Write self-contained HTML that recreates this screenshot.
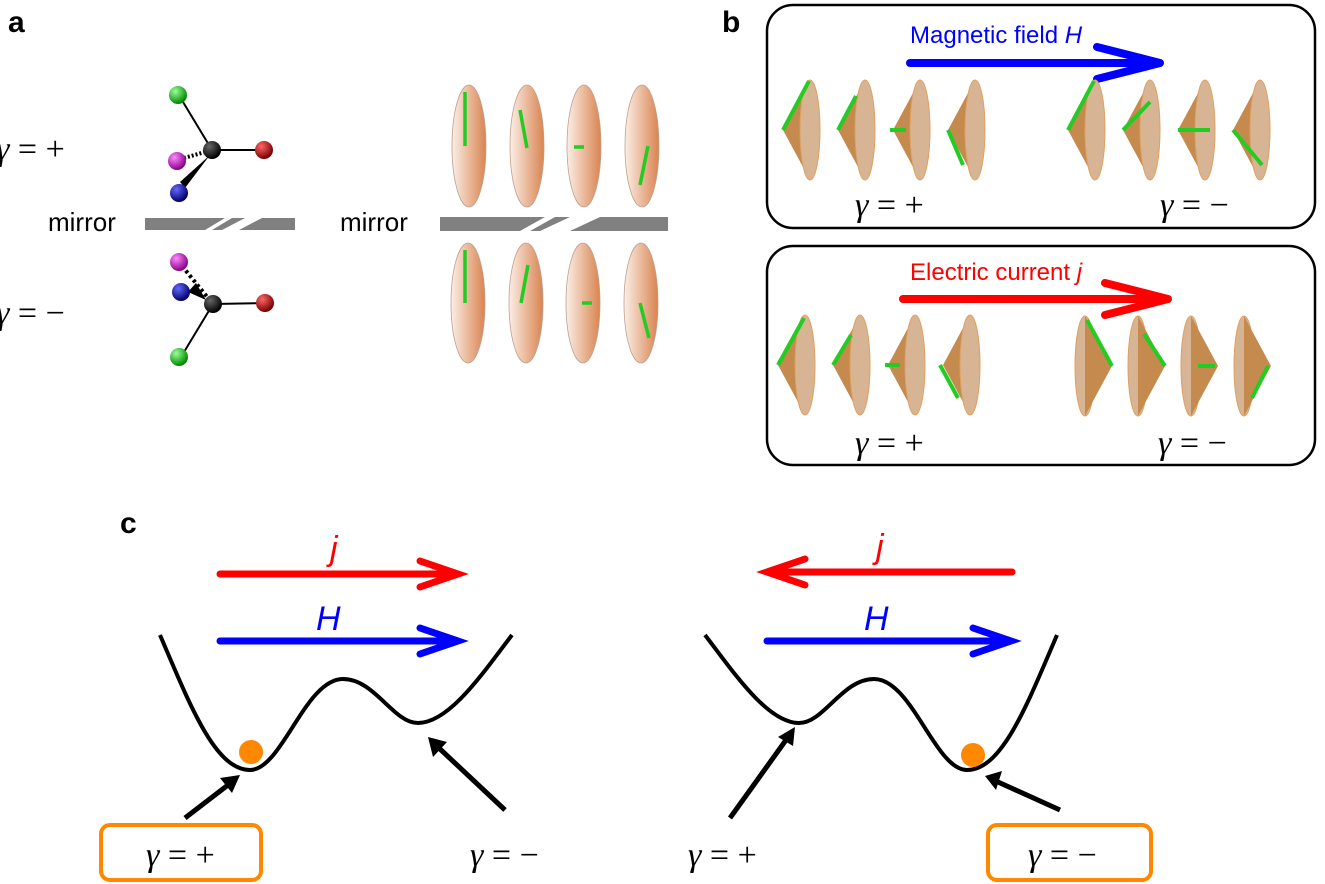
<!DOCTYPE html>
<html><head><meta charset="utf-8"><style>
html,body{margin:0;padding:0;background:#fff;}
svg{display:block;font-family:"Liberation Sans",sans-serif;}
.g{font-family:"Liberation Serif",serif;font-size:34px;}
</style></head><body>
<svg width="1325" height="884" viewBox="0 0 1325 884" xmlns="http://www.w3.org/2000/svg">
<defs>
<radialGradient id="gg" cx="35%" cy="30%" r="70%"><stop offset="0" stop-color="#9f9"/><stop offset="1" stop-color="#080"/></radialGradient>
<radialGradient id="rg" cx="35%" cy="30%" r="70%"><stop offset="0" stop-color="#f66"/><stop offset="1" stop-color="#700"/></radialGradient>
<radialGradient id="bg" cx="35%" cy="30%" r="70%"><stop offset="0" stop-color="#66f"/><stop offset="1" stop-color="#006"/></radialGradient>
<radialGradient id="mg" cx="35%" cy="30%" r="70%"><stop offset="0" stop-color="#f8f"/><stop offset="1" stop-color="#808"/></radialGradient>
<radialGradient id="kg" cx="35%" cy="30%" r="70%"><stop offset="0" stop-color="#666"/><stop offset="1" stop-color="#000"/></radialGradient>
<linearGradient id="el" x1="0" x2="1"><stop offset="0" stop-color="#fbeee6"/><stop offset="1" stop-color="#d98450"/></linearGradient>
<g id="coneL"><path d="M0,0 L27,-50 L27,50 Z" fill="#c48a4e"/><ellipse cx="27" cy="0" rx="10" ry="50" fill="#d7b493" stroke="#e0a060" stroke-width="1"/></g>
<g id="coneR"><ellipse cx="0" cy="0" rx="10" ry="50" fill="#d7b493" stroke="#e0a060" stroke-width="1"/><path d="M0,-50 L27,0 L0,50 Z" fill="#c48a4e"/></g>
</defs>

<text x="8" y="32" font-size="30" font-weight="bold">a</text>
<text x="722" y="32" font-size="30" font-weight="bold">b</text>
<text x="120" y="533" font-size="30" font-weight="bold">c</text>

<!-- panel a -->
<text class="g" x="-4" y="160" font-size="32"><tspan font-style="italic">γ</tspan> = +</text>
<text class="g" x="-4" y="324" font-size="32"><tspan font-style="italic">γ</tspan> = −</text>
<text x="48" y="231" font-size="26">mirror</text>
<text x="340" y="231" font-size="26">mirror</text>
<rect x="145" y="218" width="150" height="12" fill="#808080"/>
<path d="M205,230 L225,218 L232,218 L212,230Z M222,230 L245,218 L262,218 L239,230Z" fill="#fff"/>
<rect x="440" y="217" width="228" height="14" fill="#808080"/>
<path d="M520,231 L545,217 L555,217 L530,231Z M540,231 L570,217 L600,217 L570,231Z" fill="#fff"/>
<g stroke="#000" stroke-width="2">
<line x1="180" y1="97" x2="212" y2="150"/><line x1="212" y1="150" x2="264" y2="150"/>
<line x1="184" y1="158" x2="205" y2="152" stroke-dasharray="2,2" stroke-width="4"/>
<line x1="181" y1="357" x2="213" y2="304"/><line x1="213" y1="304" x2="265" y2="303"/>
<line x1="182" y1="266" x2="208" y2="298" stroke-dasharray="3,3" stroke-width="4"/>
</g>
<path d="M210,155 L185,188 L180,182Z" fill="#000"/>
<path d="M206,300 L188,292 L196,283Z" fill="#000"/>
<circle cx="178" cy="95" r="9" fill="url(#gg)"/><circle cx="264" cy="150" r="9" fill="url(#rg)"/>
<circle cx="177" cy="161" r="9" fill="url(#mg)"/><circle cx="179" cy="193" r="9" fill="url(#bg)"/>
<circle cx="212" cy="150" r="9" fill="url(#kg)"/>
<circle cx="179" cy="262" r="9" fill="url(#mg)"/><circle cx="181" cy="292" r="9" fill="url(#bg)"/>
<circle cx="213" cy="304" r="9" fill="url(#kg)"/><circle cx="265" cy="303" r="9" fill="url(#rg)"/>
<circle cx="179" cy="357" r="9" fill="url(#gg)"/>
<g fill="url(#el)" stroke="#c0a090" stroke-width="0.8">
<ellipse cx="469" cy="146" rx="17" ry="61"/><ellipse cx="527" cy="146" rx="17" ry="61"/><ellipse cx="584" cy="146" rx="17" ry="61"/><ellipse cx="642" cy="146" rx="17" ry="61"/>
<ellipse cx="468" cy="303" rx="17" ry="60"/><ellipse cx="526" cy="303" rx="17" ry="60"/><ellipse cx="583" cy="303" rx="17" ry="60"/><ellipse cx="641" cy="303" rx="17" ry="60"/>
</g>
<g stroke="#2c2" stroke-width="3.5" fill="#2c2">
<line x1="465" y1="146" x2="465" y2="92"/><line x1="527" y1="148" x2="520" y2="110"/><line x1="584" y1="147" x2="574" y2="147"/><line x1="648" y1="146" x2="640" y2="185"/>
<line x1="465" y1="303" x2="465" y2="250"/><line x1="521" y1="303" x2="528" y2="265"/><line x1="582" y1="303" x2="592" y2="303"/><line x1="640" y1="303" x2="649" y2="338"/>
</g>
<!-- panel b -->
<rect x="767" y="5" width="548" height="223" rx="26" fill="none" stroke="#000" stroke-width="2.5"/>
<rect x="767" y="246" width="548" height="219" rx="26" fill="none" stroke="#000" stroke-width="2.5"/>
<text x="910" y="43" font-size="24" fill="#00f">Magnetic field <tspan font-style="italic">H</tspan></text>
<text x="910" y="280" font-size="24" fill="#f00">Electric current <tspan font-style="italic">j</tspan></text>
<g stroke="#00f" stroke-width="8" fill="none" stroke-linecap="round"><line x1="910" y1="63" x2="1160" y2="63"/><path d="M1097,47 L1160,63 L1097,79"/></g>
<g stroke="#f00" stroke-width="8" fill="none" stroke-linecap="round"><line x1="903" y1="299" x2="1168" y2="299"/><path d="M1105,283 L1168,299 L1105,315"/></g>
<use href="#coneL" x="783" y="130"/><use href="#coneL" x="838" y="130"/><use href="#coneL" x="893" y="130"/><use href="#coneL" x="948" y="130"/>
<use href="#coneL" x="1068" y="130"/><use href="#coneL" x="1123" y="130"/><use href="#coneL" x="1178" y="130"/><use href="#coneL" x="1233" y="130"/>
<use href="#coneL" x="778" y="365"/><use href="#coneL" x="833" y="365"/><use href="#coneL" x="888" y="365"/><use href="#coneL" x="943" y="365"/>
<use href="#coneR" x="1085" y="366"/><use href="#coneR" x="1138" y="366"/><use href="#coneR" x="1191" y="366"/><use href="#coneR" x="1244" y="366"/>
<g stroke="#2c2" stroke-width="4">
<line x1="783" y1="130" x2="809" y2="81"/><line x1="838" y1="130" x2="856" y2="96"/><line x1="890" y1="130" x2="906" y2="130"/><line x1="948" y1="130" x2="963" y2="165"/>
<line x1="1068" y1="130" x2="1094" y2="81"/><line x1="1123" y1="130" x2="1150" y2="102"/><line x1="1178" y1="130" x2="1210" y2="130"/><line x1="1233" y1="130" x2="1262" y2="165"/>
<line x1="778" y1="365" x2="804" y2="318"/><line x1="833" y1="365" x2="851" y2="335"/><line x1="885" y1="365" x2="900" y2="365"/><line x1="940" y1="365" x2="958" y2="398"/>
<line x1="1112" y1="366" x2="1087" y2="320"/><line x1="1165" y1="366" x2="1144" y2="334"/><line x1="1198" y1="366" x2="1215" y2="366"/><line x1="1268" y1="366" x2="1252" y2="398"/>
</g>
<text class="g" x="855" y="216"><tspan font-style="italic">γ</tspan> = +</text>
<text class="g" x="1160" y="216"><tspan font-style="italic">γ</tspan> = −</text>
<text class="g" x="855" y="454"><tspan font-style="italic">γ</tspan> = +</text>
<text class="g" x="1158" y="454"><tspan font-style="italic">γ</tspan> = −</text>

<!-- panel c -->
<text x="330" y="560" font-size="34" font-style="italic" fill="#f00">j</text>
<text x="316" y="630" font-size="34" font-style="italic" fill="#00f">H</text>
<text x="876" y="558" font-size="34" font-style="italic" fill="#f00">j</text>
<text x="864" y="630" font-size="34" font-style="italic" fill="#00f">H</text>
<g stroke-width="7" fill="none" stroke-linecap="round">
<line x1="220" y1="574" x2="455" y2="574" stroke="#f00"/><path d="M420,561 L458,574 L420,587" stroke="#f00"/>
<line x1="220" y1="641" x2="455" y2="641" stroke="#00f"/><path d="M420,628 L458,641 L420,654" stroke="#00f"/>
<line x1="1012" y1="572" x2="770" y2="572" stroke="#f00"/><path d="M805,559 L767,572 L805,585" stroke="#f00"/>
<line x1="767" y1="641" x2="1008" y2="641" stroke="#00f"/><path d="M973,628 L1011,641 L973,654" stroke="#00f"/>
</g>
<path id="pot" d="M160,635 C190,705 215,770 250,770 C282,770 305,679 343,679 C375,679 393,723 418,723 C450,723 485,670 512,635" fill="none" stroke="#000" stroke-width="4"/>
<use href="#pot" transform="translate(1217,0) scale(-1,1)"/>
<circle cx="251" cy="752" r="12" fill="#f80"/>
<circle cx="973" cy="755" r="12" fill="#f80"/>
<g stroke="#000" stroke-width="5"><line x1="185" y1="818" x2="228" y2="785"/><line x1="505" y1="810" x2="440" y2="749"/>
<line x1="730" y1="818" x2="786" y2="740"/><line x1="1060" y1="810" x2="998" y2="782"/></g>
<path d="M240,775 L220,778 L232,793Z M428,737 L433,757 L447,742Z M795,727 L778,737 L793,746Z M985,776 L1002,771 L996,790Z" fill="#000"/>
<rect x="101" y="825" width="160" height="55" rx="9" fill="none" stroke="#f80" stroke-width="4"/>
<rect x="988" y="825" width="163" height="55" rx="9" fill="none" stroke="#f80" stroke-width="4"/>
<text class="g" x="146" y="866"><tspan font-style="italic">γ</tspan> = +</text>
<text class="g" x="470" y="866"><tspan font-style="italic">γ</tspan> = −</text>
<text class="g" x="688" y="866"><tspan font-style="italic">γ</tspan> = +</text>
<text class="g" x="1028" y="866"><tspan font-style="italic">γ</tspan> = −</text>
</svg>
</body></html>
